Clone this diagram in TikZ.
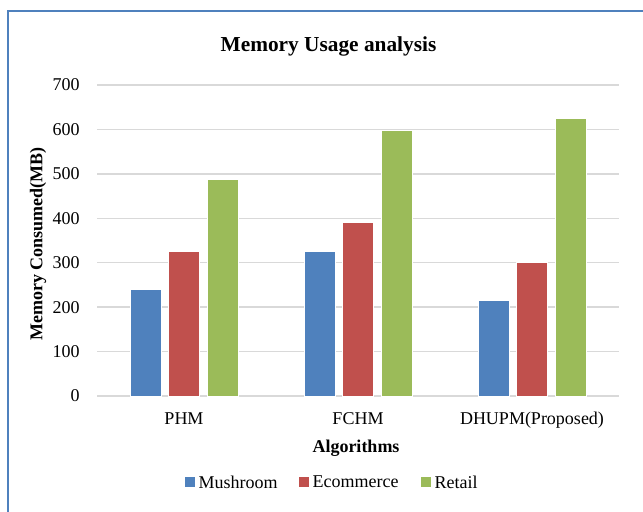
\documentclass[tikz,border=0pt]{standalone}
\usepackage{fontspec}
\setmainfont{Liberation Serif}
\definecolor{frameblue}{RGB}{79, 129, 189}
\definecolor{mushblue}{RGB}{79, 129, 189}
\definecolor{ecomred}{RGB}{192, 80, 77}
\definecolor{retgreen}{RGB}{155, 187, 89}
\definecolor{gridgray}{RGB}{217, 217, 217}
\usetikzlibrary{positioning}
\tikzset{
  axisfont/.style={font=\fontsize{13.5}{16}\selectfont},
  axisbold/.style={font=\fontsize{13.5}{16}\selectfont\bfseries, anchor=base, inner sep=0pt},
  gridline/.style={gridgray, line width=1.1pt},
  barbox/.style={draw=white, line width=0.5pt},
  ticklabel/.style={axisfont, anchor=east, inner sep=0pt, xshift=-12.75pt},
  catlabel/.style={axisfont, anchor=base, inner sep=0pt, yshift=-21.2pt},
  legkey/.style={minimum size=7.5pt, inner sep=0pt},
  legtext/.style={axisfont, inner sep=0pt, right=2.25pt of #1}
}
\begin{document}
\begin{tikzpicture}[x=0.75pt, y=-0.75pt]
  \useasboundingbox (0,0) rectangle (643,511);
  % Chart frame
  \draw[frameblue, line width=1.2pt] (8,520) |- (650,11);

  % Title
  \node[font=\fontsize{16}{19}\selectfont\bfseries, anchor=base, inner sep=0pt] (title) at (328.5,51.7) {Memory Usage analysis};

  % Plot area, in categories and MB
  \begin{scope}[shift={(97,396)}, x=130.5pt, y=0.3332pt]
    \foreach \v in {0,100,...,700}{
      \draw[gridline] (0,\v) -- (3,\v);
      \node[ticklabel] (tick\v) at (0,\v) {\v};
    }
    % Bars
    \foreach \alg/\m/\e/\r [count=\k from 0] in {PHM/240/325/487, FCHM/325/390/598, DHUPM(Proposed)/215/300/625}{
      \foreach \off/\col/\v in {-0.2213/mushblue/\m, 0/ecomred/\e, 0.2213/retgreen/\r}
        \filldraw[barbox, fill=\col] (\k+0.5+\off-0.089,0) rectangle (\k+0.5+\off+0.089,\v);
      \node[catlabel] (cat\k) at (\k+0.5,0) {\alg};
    }
  \end{scope}

  % Axis titles
  \node[axisbold] (xtitle) at (356,452.3) {Algorithms};
  \node[axisbold, rotate=90] (ytitle) at (42.5,244) {Memory Consumed(MB)};

  % Legend
  \node[legkey, fill=mushblue] (kmush) at (190,482) {};
  \node[legtext=kmush] (tmush) {Mushroom};
  \node[legkey, fill=ecomred] (kecom) at (304,482) {};
  \node[legtext=kecom] (tecom) {Ecommerce};
  \node[legkey, fill=retgreen] (kret) at (426,482) {};
  \node[legtext=kret] (tret) {Retail};
\end{tikzpicture}
\end{document}
